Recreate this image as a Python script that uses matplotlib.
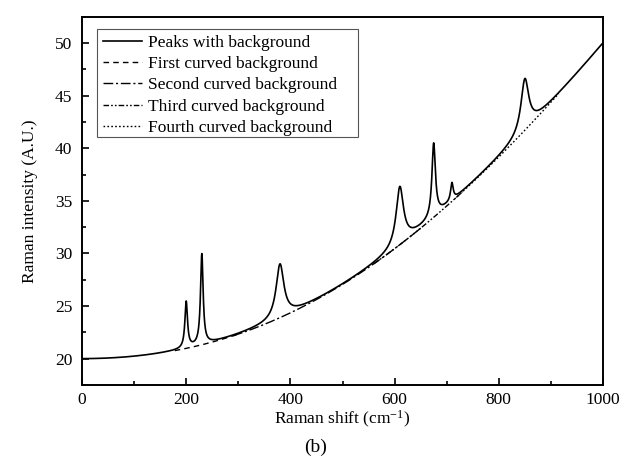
import numpy as np
import matplotlib
matplotlib.use("Agg")
import matplotlib.pyplot as plt
from matplotlib.patches import Rectangle
from matplotlib.ticker import MultipleLocator

# Raman spectrum: polynomial baseline + Lorentzian peaks
baseline_coef = [20.0, 0.0, 21.0, 20.0, -11.0]   # sum c_i * t^i, t = shift/1000
peak_centers = [200, 230, 380, 610, 675, 710, 850]
peak_heights = [4.4, 8.6, 5.1, 5.5, 6.95, 1.65, 4.9]
peak_hwhm = [3.0, 3.0, 9.0, 8.5, 4.0, 3.0, 9.0]

bg_labels = ["First curved background", "Second curved background",
             "Third curved background", "Fourth curved background"]
bg_ranges = [(178, 300), (290, 650), (560, 730), (715, 915)]
bg_styles = [(0, (4, 3)), (0, (7, 2, 1.5, 2)), (0, (4, 1.5, 1.2, 1.5, 1.2, 1.5)), (0, (1.2, 1.6))]

x_range = (0, 1000)
y_range = (17.5, 52.5)


def baseline(x):
    t = np.asarray(x) / 1000.0
    return sum(c * t ** i for i, c in enumerate(baseline_coef))


def spectrum(x):
    y = baseline(x)
    for c, h, w in zip(peak_centers, peak_heights, peak_hwhm):
        y = y + h / (1.0 + ((x - c) / w) ** 2)
    return y


plt.rcParams["font.family"] = ["Liberation Serif", "DejaVu Serif"]
plt.rcParams["mathtext.fontset"] = "custom"
plt.rcParams["mathtext.rm"] = "Liberation Serif"
plt.rcParams["mathtext.it"] = "Liberation Serif:italic"

W, H = 622, 462
fig = plt.figure(figsize=(W / 100, H / 100), dpi=100)
ax = fig.add_axes([82 / W, 77 / H, 521 / W, 368.3 / H])

x = np.linspace(x_range[0], x_range[1], 4001)
ax.plot(x, spectrum(x), color="black", lw=1.2, label="Peaks with background")
for (a, b), ls, lab in zip(bg_ranges, bg_styles, bg_labels):
    xs = np.linspace(a, b, 400)
    ax.plot(xs, baseline(xs), color="black", lw=1.0, linestyle=ls, label=lab)

ax.set_xlim(*x_range)
ax.set_ylim(*y_range)
ax.xaxis.set_major_locator(MultipleLocator(200))
ax.xaxis.set_minor_locator(MultipleLocator(100))
ax.yaxis.set_major_locator(MultipleLocator(5))
ax.yaxis.set_minor_locator(MultipleLocator(2.5))
ax.tick_params(which="both", direction="in", top=False, right=False, labelsize=12.5, width=1.2)
ax.tick_params(which="major", length=5)
ax.tick_params(axis="y", which="major", pad=7)
ax.tick_params(axis="x", which="major", pad=5)
ax.tick_params(which="minor", length=3)
for s in ax.spines.values():
    s.set_linewidth(1.4)

ax.set_xlabel(r"Raman shift (cm$^{-1}$)", fontsize=12.5, labelpad=1)
ax.set_ylabel("Raman intensity (A.U.)", fontsize=12.5, labelpad=12)

# legend text without frame, frame drawn separately (wider on the right like the original)
leg = ax.legend(loc="upper left", bbox_to_anchor=(103 / W, 1 - 34.5 / H),
                bbox_transform=fig.transFigure, fontsize=12.5, frameon=False,
                borderpad=0, borderaxespad=0, handlelength=2.25, handletextpad=0.35,
                labelspacing=0.3)
fig.patches.append(Rectangle((97 / W, 1 - 137 / H), 261 / W, 108 / H,
                             transform=fig.transFigure, fill=False,
                             edgecolor="#555555", linewidth=0.8, zorder=5))

fig.text(316 / W, 1 - 447 / H, "(b)", ha="center", va="center", fontsize=14)

fig.savefig("out.png", dpi=100)
